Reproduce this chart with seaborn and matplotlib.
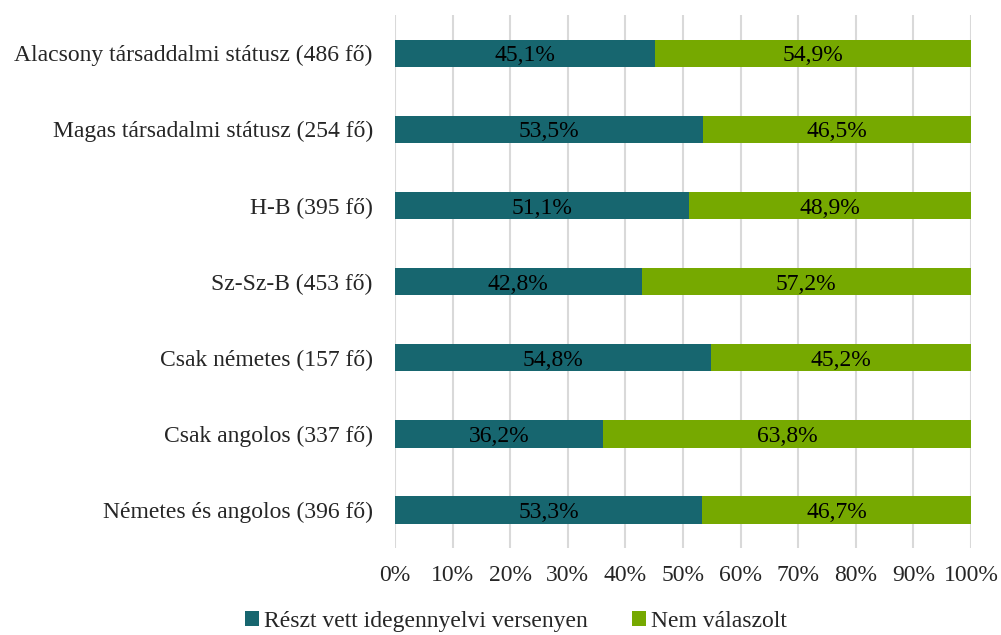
import numpy as np
import pandas as pd
import matplotlib.pyplot as plt
import seaborn as sns

categories = [
    "Alacsony társaddalmi státusz (486 fő)",
    "Magas társadalmi státusz (254 fő)",
    "H-B (395 fő)",
    "Sz-Sz-B (453 fő)",
    "Csak németes (157 fő)",
    "Csak angolos (337 fő)",
    "Németes és angolos (396 fő)",
]
reszt_vett = [45.1, 53.5, 51.1, 42.8, 54.8, 36.2, 53.3]
nem_valaszolt = [54.9, 46.5, 48.9, 57.2, 45.2, 63.8, 46.7]
series_names = ["Részt vett idegennyelvi versenyen", "Nem válaszolt"]
colors = ["#17666f", "#76a900"]

df = pd.DataFrame({"cat": categories, "a": reszt_vett, "b": nem_valaszolt})
df["total"] = df["a"] + df["b"]

sns.set_style("white")
plt.rcParams["font.family"] = ["Liberation Serif", "DejaVu Serif"]
fs = 17

fig = plt.figure(figsize=(10.01, 6.35), dpi=100)
ax = fig.add_axes([0.3946, 0.137, 0.5754, 0.839])

sns.barplot(data=df, y="cat", x="total", color=colors[1], orient="h", saturation=1,
            width=0.36, ax=ax, label=series_names[1], zorder=3, linewidth=0)
sns.barplot(data=df, y="cat", x="a", color=colors[0], orient="h", saturation=1,
            width=0.36, ax=ax, label=series_names[0], zorder=3, linewidth=0)

for i, (a, b) in enumerate(zip(reszt_vett, nem_valaszolt)):
    ax.text(a / 2, i, f"{a:.1f}%".replace(".", ","), ha="center", va="center_baseline",
            fontsize=fs, color="black", zorder=4)
    ax.text(a + b / 2, i, f"{b:.1f}%".replace(".", ","), ha="center", va="center_baseline",
            fontsize=fs, color="black", zorder=4)

ax.set_xlim(0, 100)
ax.set_ylim(6.5, -0.5)
ax.set_xticks(np.arange(0, 101, 10))
ax.set_xticklabels([f"{t}%" for t in range(0, 101, 10)], fontsize=fs)
ax.tick_params(axis="y", labelsize=fs, length=0, pad=16)
ax.tick_params(axis="x", length=0, pad=12)
ax.set_xlabel("")
ax.set_ylabel("")
ax.xaxis.grid(True, color="#d9d9d9", linewidth=1.5, zorder=0)
ax.set_axisbelow(True)
for s in ax.spines.values():
    s.set_visible(False)

handles, labels = ax.get_legend_handles_labels()
order = [labels.index(n) for n in series_names]
ax.legend([handles[i] for i in order], series_names, loc="upper center",
          bbox_to_anchor=(0.21, -0.078), ncol=2, frameon=False,
          fontsize=fs, handlelength=0.6, handleheight=0.6, handletextpad=0.2,
          columnspacing=1.9)

fig.savefig("out.png", dpi=100)
